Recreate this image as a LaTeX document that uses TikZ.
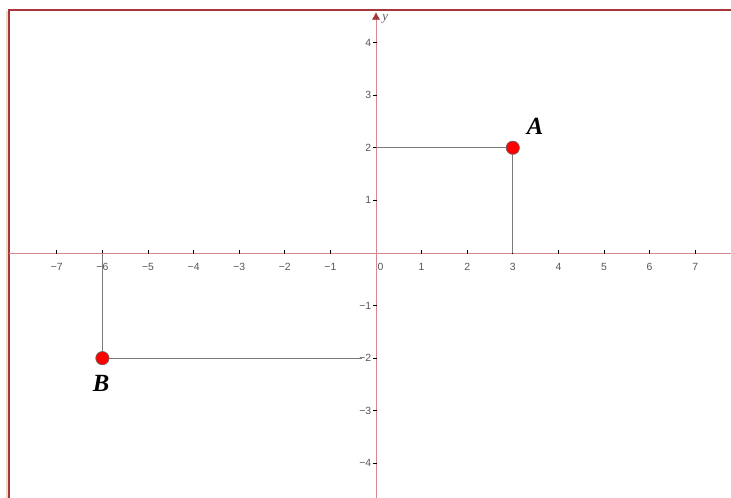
\documentclass[tikz,border=0pt]{standalone}
\usepackage{fontspec}
\setmainfont{Liberation Serif}
\setsansfont{Liberation Sans}
\usetikzlibrary{arrows.meta}
\definecolor{framered}{HTML}{A8353A}
\definecolor{axisred}{HTML}{D48A8D}
\definecolor{ticklab}{HTML}{555555}
\definecolor{guide}{HTML}{7A7A7A}
\definecolor{edgebeige}{HTML}{E9DCC8}
\tikzset{
  pt/.style={circle,draw=black!60,line width=0.5pt,fill=red,inner sep=0pt,minimum size=0.35cm},
  ticklab/.style={font=\sffamily\fontsize{7.8}{8}\selectfont,text=ticklab,inner sep=1pt},
  ptlab/.style={font=\bfseries\itshape\fontsize{18.5}{19}\selectfont},
  guide/.style={draw=guide,line width=0.5pt}
}
\begin{document}
\begin{tikzpicture}[x=1.2cm,y=1.384cm,>={Latex[length=2mm,width=2.2mm]}]
        \useasboundingbox (-8.246,-4.658) rectangle (7.785,4.810);
        % frame
        \fill[edgebeige] (-8.12,-4.658) rectangle (-8.05,4.60);
        \draw[framered,line width=1.5pt] (-8.05,-4.658)--(-8.05,4.62)--(7.785,4.62);
        % axes
        \draw[axisred,line width=0.6pt] (-8.05,0)--(7.785,0);
        \draw[axisred,line width=0.6pt,->,>={Latex[length=2mm,width=2.2mm,color=framered]}] (0,-4.658)--(0,4.58);
        \node[font=\itshape\fontsize{9.5}{10}\selectfont,text=ticklab] (ylab) at (0.2,4.45){y};
        \foreach \x in {1,...,7}
        {
            \draw[ticklab,line width=0.5pt] (\x,-0.02)--(\x,0.05);
            \draw[ticklab,line width=0.5pt] (-\x,-0.02)--(-\x,0.05);
            \node[ticklab] at (\x,-0.26){\x};
            \node[ticklab] at (-\x,-0.26){−\x};
        }
        \foreach \y in {1,...,4}
        {
            \draw[ticklab,line width=0.5pt] (-0.06,\y)--(0.02,\y);
            \draw[ticklab,line width=0.5pt] (-0.06,-\y)--(0.02,-\y);
            \node[ticklab,anchor=east,fill=white] at (-0.07,\y){\y};
            \node[ticklab,anchor=east,fill=white] at (-0.07,-\y){−\y};
        }
        \node[ticklab] at (0.1,-0.26){0};
        % points
        \node[pt] (A) at (3,2){};
        \node[pt] (B) at (-6,-2){};
        \coordinate (Ay) at (0,2);
        \coordinate (Ax) at (3,0);
        \coordinate (By) at (-0.3,-2);
        \coordinate (Bx) at (-6,0);
        \draw[guide] (A)--(Ay);
        \draw[guide] (A)--(Ax);
        \draw[guide] (B)--(By);
        \draw[guide] (B)--(Bx);
        \node[ptlab] (Alab) at (3.49,2.40){A};
        \node[ptlab] (Blab) at (-6.03,-2.49){B};
    \end{tikzpicture}
\end{document}
